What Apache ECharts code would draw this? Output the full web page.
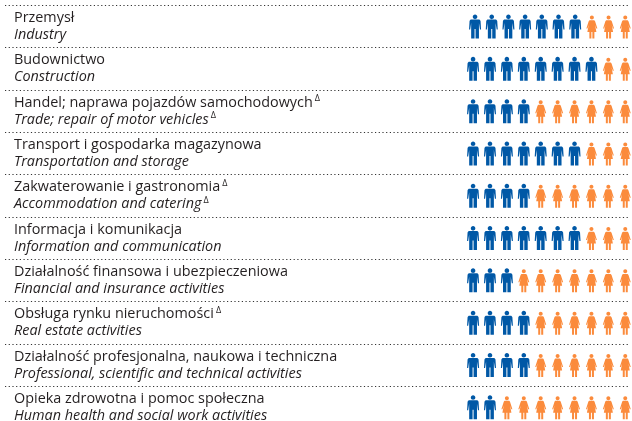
<!DOCTYPE html>
<html>
<head>
<meta charset="utf-8">
<style>
	html, body { margin: 0; padding: 0; background: #fff; overflow: hidden; }
	/* ostatnia linia podzialu wypada ponizej kadru */
	#myChart { width: 632px; height: 440px; }
</style>
<script src="https://cdn.jsdelivr.net/npm/echarts@6/dist/echarts.min.js"></script>
</head>
<body>
<div id="myChart"></div>
<script>
const namesPl = [
	'Przemysł',
	'Budownictwo',
	'Handel; naprawa pojazdów samochodowych',
	'Transport i gospodarka magazynowa',
	'Zakwaterowanie i gastronomia',
	'Informacja i komunikacja',
	'Działalność finansowa i ubezpieczeniowa',
	'Obsługa rynku nieruchomości',
	'Działalność profesjonalna, naukowa i techniczna',
	'Opieka zdrowotna i pomoc społeczna'
]
const namesEn = [
	'Industry',
	'Construction',
	'Trade; repair of motor vehicles',
	'Transportation and storage',
	'Accommodation and catering',
	'Information and communication',
	'Financial and insurance activities',
	'Real estate activities',
	'Professional, scientific and technical activities',
	'Human health and social work activities'
]
// 1 = znacznik delta przy nazwie
const deltaPl = [0, 0, 1, 0, 1, 0, 0, 1, 0, 0]
const deltaEn = [0, 0, 1, 0, 1, 0, 0, 0, 0, 0]
// liczba mezczyzn na 10 osob
const menCounts = [7, 8, 4, 7, 4, 7, 3, 4, 4, 2]
const peoplePerRow = 10

const manPath = 'path://M6 0C7.3 0 8.3 1 8.3 2.3C8.3 3.6 7.3 4.6 6 4.6C4.7 4.6 3.7 3.6 3.7 2.3C3.7 1 4.7 0 6 0Z' +
	'M2.5 5H9.5C10.7 5 11.2 5.6 11.5 6.5L12 15H10.9L9.9 8.5V24H6.5V14.5H5.5V24H2.1V8.5L1.1 15H0L.5 6.5C.8 5.6 1.3 5 2.5 5Z'
const womanPath = 'path://M5.5 0C6.6 0 7.5 .9 7.5 2C7.5 3.1 6.6 4 5.5 4C4.4 4 3.5 3.1 3.5 2C3.5 .9 4.4 0 5.5 0Z' +
	'M3.8 4.6H7.2C8 4.6 8.4 5 8.7 5.7L11 13H9.9L8.7 9.5L10 16.5H8V23H6V16.5H5V23H3V16.5H1L2.3 9.5L1.1 13H0L2.3 5.7C2.6 5 3 4.6 3.8 4.6Z'

const menData = []
const womenData = []
menCounts.forEach((men, row) => {
	for (let i = 1; i <= peoplePerRow; i++) {
		// pierwszy wiersz w oryginale jest lekko rozsuniety
		const drift = row === 0 ? (peoplePerRow - i) * 0.22 : 0
		const point = { value: [i, row], symbolOffset: [drift, i <= men ? 0 : 0.5] }
		if (i <= men) menData.push(point)
		else womenData.push(point)
	}
})

const labels = namesPl.map((name, i) => {
	const markPl = deltaPl[i] ? '{sup|Δ}' : ''
	const markEn = deltaEn[i] ? '{sup|Δ}' : ''
	return '{pl|' + name + '}' + markPl + '\n{en|' + namesEn[i] + '}' + markEn
})

const font = '"Open Sans"'
const option = {
	animation: false,
	backgroundColor: '#fff',
	grid: { left: 5, right: 2, top: 5.4, height: 423, containLabel: false },
	xAxis: {
		type: 'value',
		min: -26.68,
		max: 10.28,
		show: false
	},
	yAxis: {
		type: 'category',
		inverse: true,
		data: labels,
		axisLine: { show: false },
		axisTick: { show: false },
		splitLine: {
			show: true,
			lineStyle: { color: '#333', type: [1.2, 2.5], width: 1 }
		},
		axisLabel: {
			inside: true,
			margin: 9,
			align: 'left',
			fontFamily: font,
			interval: 0,
			rich: {
				pl: { fontFamily: font, fontSize: 14.4, lineHeight: 17, color: '#231f20' },
				en: { fontFamily: font, fontSize: 14.4, lineHeight: 17, fontStyle: 'italic', color: '#231f20' },
				sup: { fontFamily: font, fontSize: 9, lineHeight: 17, padding: [0, 0, 0, 2], verticalAlign: 'top', color: '#231f20' }
			}
		}
	},
	series: [
		{
			name: 'men',
			type: 'scatter',
			symbol: manPath,
			symbolSize: [12, 24],
			itemStyle: { color: '#0058a6', opacity: 1 },
			data: menData
		},
		{
			name: 'women',
			type: 'scatter',
			symbol: womanPath,
			symbolSize: [11, 23],
			itemStyle: { color: '#fb8b3c', opacity: 1 },
			data: womenData
		}
	]
}

echarts.init(document.getElementById('myChart'), null, { renderer: 'canvas' }).setOption(option)
</script>
</body>
</html>
